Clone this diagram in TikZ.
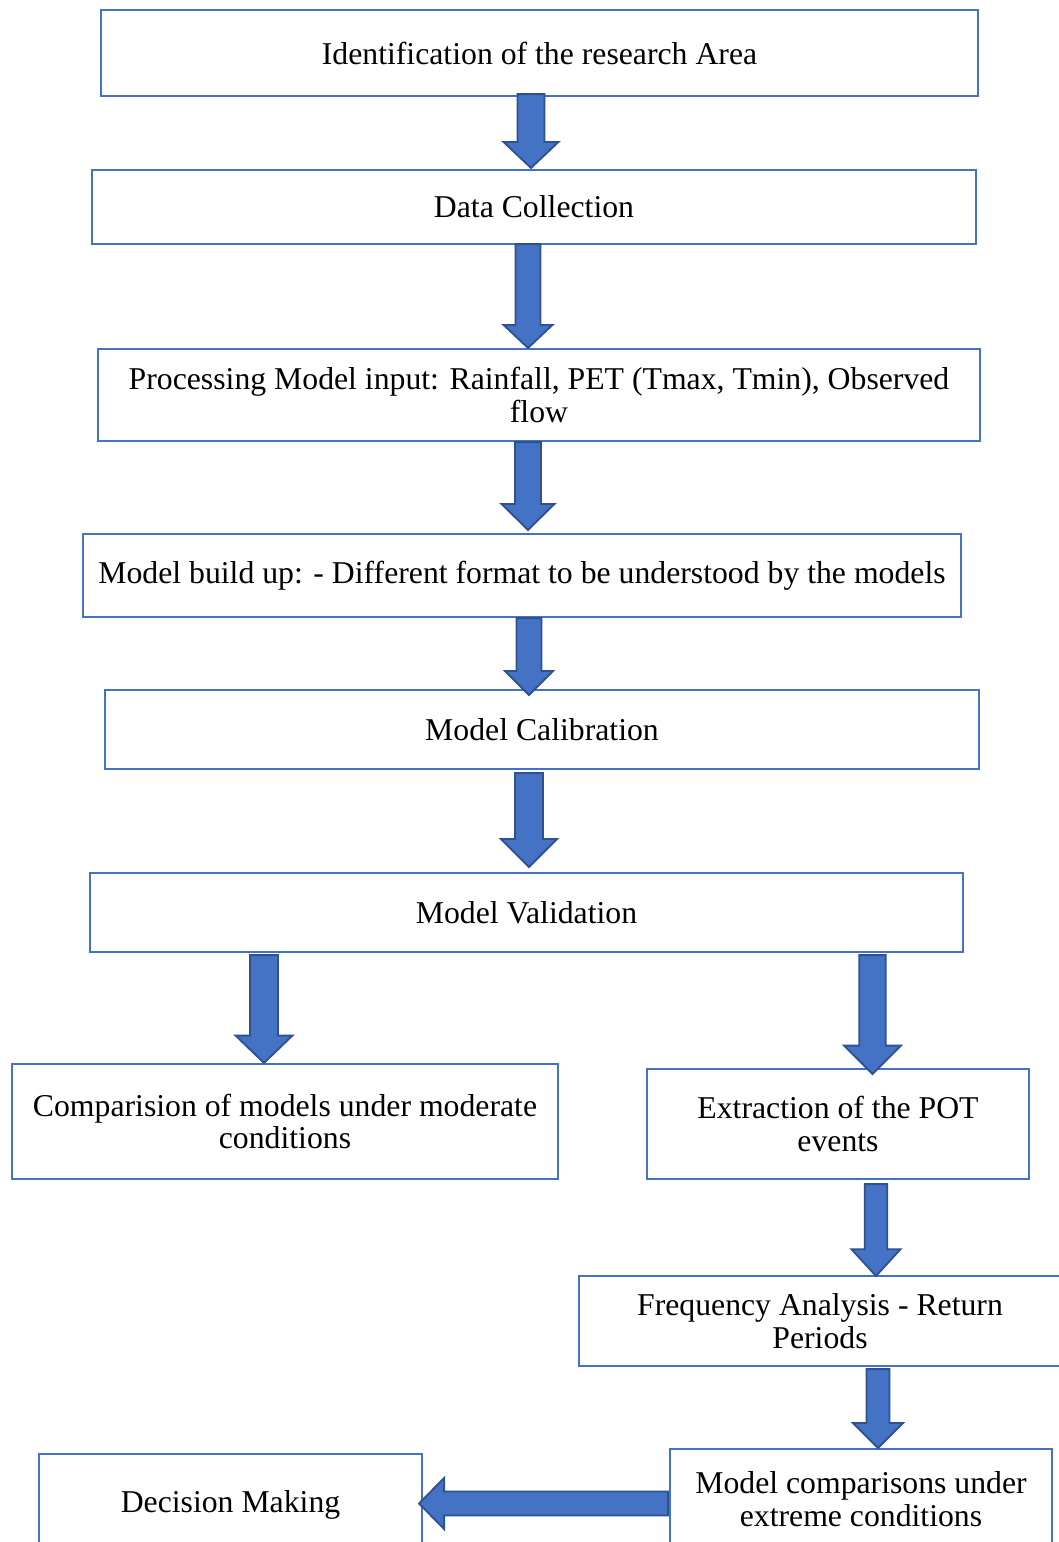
\documentclass[tikz,border=0pt]{standalone}
\usepackage{fontspec}
\setmainfont{Liberation Serif}
\usetikzlibrary{calc}
\definecolor{boxblue}{HTML}{4472C4}
\definecolor{arrowfill}{HTML}{4472C4}
\definecolor{arrowedge}{HTML}{2F528F}
\tikzset{
  stagebox/.style={draw=boxblue, line width=1.6pt, fill=white, inner sep=0pt,
    align=center, font=\fontsize{23.8pt}{24.5pt}\selectfont},
  blockarrow/.style={fill=arrowfill, draw=arrowedge, line width=1.4pt, line join=miter},
}
% \stage{name}{x1}{y1}{x2}{y2}{text}: a box given by its corners
\newcommand\stage[6]{%
  \node[stagebox, minimum width={(#4-#2)*0.75pt}, minimum height={(#5-#3)*0.75pt}]
    (#1) at ({(#2+#4)/2},{(#3+#5)/2}) {#6};}
% \flowdown{start}{tip}{shaft half-width}{head half-width}{head length}
\newcommand\flowdown[5]{%
  \draw[blockarrow] ($(#1)+(-#3,0)$) -- ($(#2)+(-#3,-#5)$) -- ($(#2)+(-#4,-#5)$)
    -- (#2) -- ($(#2)+(#4,-#5)$) -- ($(#2)+(#3,-#5)$) -- ($(#1)+(#3,0)$) -- cycle;}
% \flowleft{start}{tip}{shaft half-width}{head half-width}{head length}
\newcommand\flowleft[5]{%
  \draw[blockarrow] ($(#1)+(0,-#3)$) -- ($(#2)+(#5,-#3)$) -- ($(#2)+(#5,-#4)$)
    -- (#2) -- ($(#2)+(#5,#4)$) -- ($(#2)+(#5,#3)$) -- ($(#1)+(0,#3)$) -- cycle;}
\begin{document}
\begin{tikzpicture}[x=0.75pt, y=-0.75pt]
  \useasboundingbox (0,0) rectangle (1059,1542);
  \fill[white] (0,0) rectangle (1059,1542);
  \clip (0,0) rectangle (1059,1542);

  % process stages
  \stage{ident}{101}{10}{978}{96}{Identification of the research Area}
  \stage{data}{92}{170}{976}{244}{Data Collection}
  \stage{proc}{98}{349}{980}{441}{Processing Model input: Rainfall, PET (Tmax, Tmin), Observed\\flow}
  \stage{build}{83}{534}{961}{617}{Model build up: - Different format to be understood by the models}
  \stage{calib}{105}{690}{979}{769}{Model Calibration}
  \stage{valid}{90}{873}{963}{952}{Model Validation}
  \stage{moder}{12}{1064}{558}{1179}{Comparision of models under moderate\\conditions}
  \stage{pot}{647}{1069}{1029}{1179}{Extraction of the POT\\events}
  \stage{freq}{579}{1276}{1061}{1366}{Frequency Analysis - Return\\Periods}
  \stage{extreme}{670}{1449}{1052}{1549}{Model comparisons under\\extreme conditions}
  \stage{decide}{39}{1454}{422}{1556}{Decision Making}

  % arrow columns
  \coordinate (c1) at (531,0);
  \coordinate (c2) at (528,0);
  \coordinate (c3) at (528,0);
  \coordinate (c4) at (529,0);
  \coordinate (c5) at (529,0);
  \coordinate (c6) at (264,0);
  \coordinate (c7) at (872.5,0);
  \coordinate (c8) at (876,0);
  \coordinate (c9) at (878,0);
  \coordinate (r10) at (0,1503.5);

  % arrow ends
  \coordinate (a1s) at ($(ident.south -| c1)+(0,-3)$);
  \coordinate (a1e) at ($(data.north -| c1)+(0,-1)$);
  \coordinate (a2s) at ($(data.south -| c2)+(0,-1)$);
  \coordinate (a2e) at (proc.north -| c2);
  \coordinate (a3s) at (proc.south -| c3);
  \coordinate (a3e) at ($(build.north -| c3)+(0,-3)$);
  \coordinate (a4s) at (build.south -| c4);
  \coordinate (a4e) at ($(calib.north -| c4)+(0,6)$);
  \coordinate (a5s) at ($(calib.south -| c5)+(0,3)$);
  \coordinate (a5e) at ($(valid.north -| c5)+(0,-5)$);
  \coordinate (a6s) at ($(valid.south -| c6)+(0,2)$);
  \coordinate (a6e) at (moder.north -| c6);
  \coordinate (a7s) at ($(valid.south -| c7)+(0,2)$);
  \coordinate (a7e) at ($(pot.north -| c7)+(0,6)$);
  \coordinate (a8s) at ($(pot.south -| c8)+(0,4)$);
  \coordinate (a8e) at ($(freq.north -| c8)+(0,1)$);
  \coordinate (a9s) at ($(freq.south -| c9)+(0,2)$);
  \coordinate (a9e) at (extreme.north -| c9);
  \coordinate (a10s) at ($(extreme.west |- r10)+(-1,0)$);
  \coordinate (a10e) at ($(decide.east |- r10)+(-4,0)$);

  % block arrows
  \flowdown{a1s}{a1e}{13.5}{27.5}{26}
  \flowdown{a2s}{a2e}{12.5}{24.5}{23}
  \flowdown{a3s}{a3e}{13}{26.5}{26}
  \flowdown{a4s}{a4e}{12.5}{24}{24}
  \flowdown{a5s}{a5e}{14}{28}{28}
  \flowdown{a6s}{a6e}{14}{28.3}{27.3}
  \flowdown{a7s}{a7e}{13.3}{28.5}{28.3}
  \flowdown{a8s}{a8e}{11.2}{24.5}{26.7}
  \flowdown{a9s}{a9e}{11.5}{25}{25}
  \flowleft{a10s}{a10e}{12}{25.5}{25}
\end{tikzpicture}
\end{document}
